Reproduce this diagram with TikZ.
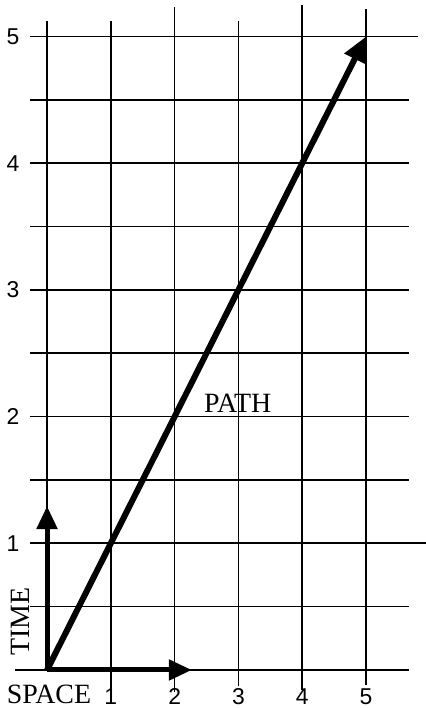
\documentclass[tikz,border=0pt]{standalone}
\usepackage{fontspec}
\setmainfont{Liberation Serif}
\newfontfamily\numfont{Liberation Sans}
\usetikzlibrary{arrows.meta,positioning}
\tikzset{
    gridline/.style={line width=1.6bp, black},
    axisarrow/.style={line width=5bp, -{Triangle[length=23bp,width=20bp]}},
    patharrow/.style={line width=6bp, -{Triangle[length=25bp,width=22bp]}},
    numlabel/.style={font=\numfont\fontsize{23}{26}\selectfont, inner sep=0pt},
    wordlabel/.style={font=\fontsize{28}{31}\selectfont, inner sep=0pt},
}

\begin{document}
\begin{tikzpicture}[x=63.8bp, y=126.7bp]
    \useasboundingbox (-0.737,-0.300) rectangle (5.940,5.288);

    % Grid
    \foreach \x/\top/\bot in {0/5.122/0, 1/5.122/-0.26, 2/5.233/-0.17, 3/5.122/-0.13, 4/5.249/-0.16, 5/5.217/-0.12} {
        \draw[gridline] (\x, \bot) -- (\x, \top);
    }
    \foreach \y/\l/\r in {0/-0.5/5.674, 0.5/-0.266/5.674, 1/-0.266/5.94, 1.5/-0.266/5.674, 2/-0.266/5.674, 2.5/-0.266/5.674, 3/-0.266/5.674, 3.5/-0.266/5.674, 4/-0.266/5.674, 4.5/-0.266/5.674, 5/-0.266/5.815} {
        \draw[gridline] (\l, \y) -- (\r, \y);
    }

    % Tick labels
    \foreach \n in {1,...,5} {
        \node[numlabel] (t\n) at (-0.533, \n) {\n};
        \node[numlabel] (s\n) at (\n, -0.21) {\n};
    }

    % Axes and path
    \coordinate (O) at (0, 0);
    \coordinate (T) at (0, 1.294);
    \coordinate (S) at (2.27, 0);
    \coordinate (E) at (5, 5);
    \draw[axisarrow] (O) -- (T);
    \draw[axisarrow] (O) -- (S);
    \draw[patharrow] (O) -- (E);

    % Words
    \node[wordlabel, rotate=90] (time) at (-0.42, 0.38) {TIME};
    \node[wordlabel] (space) at (0.03, -0.19) {SPACE};
    \node[wordlabel] (path) at (2.99, 2.107) {PATH};
\end{tikzpicture}
\end{document}
